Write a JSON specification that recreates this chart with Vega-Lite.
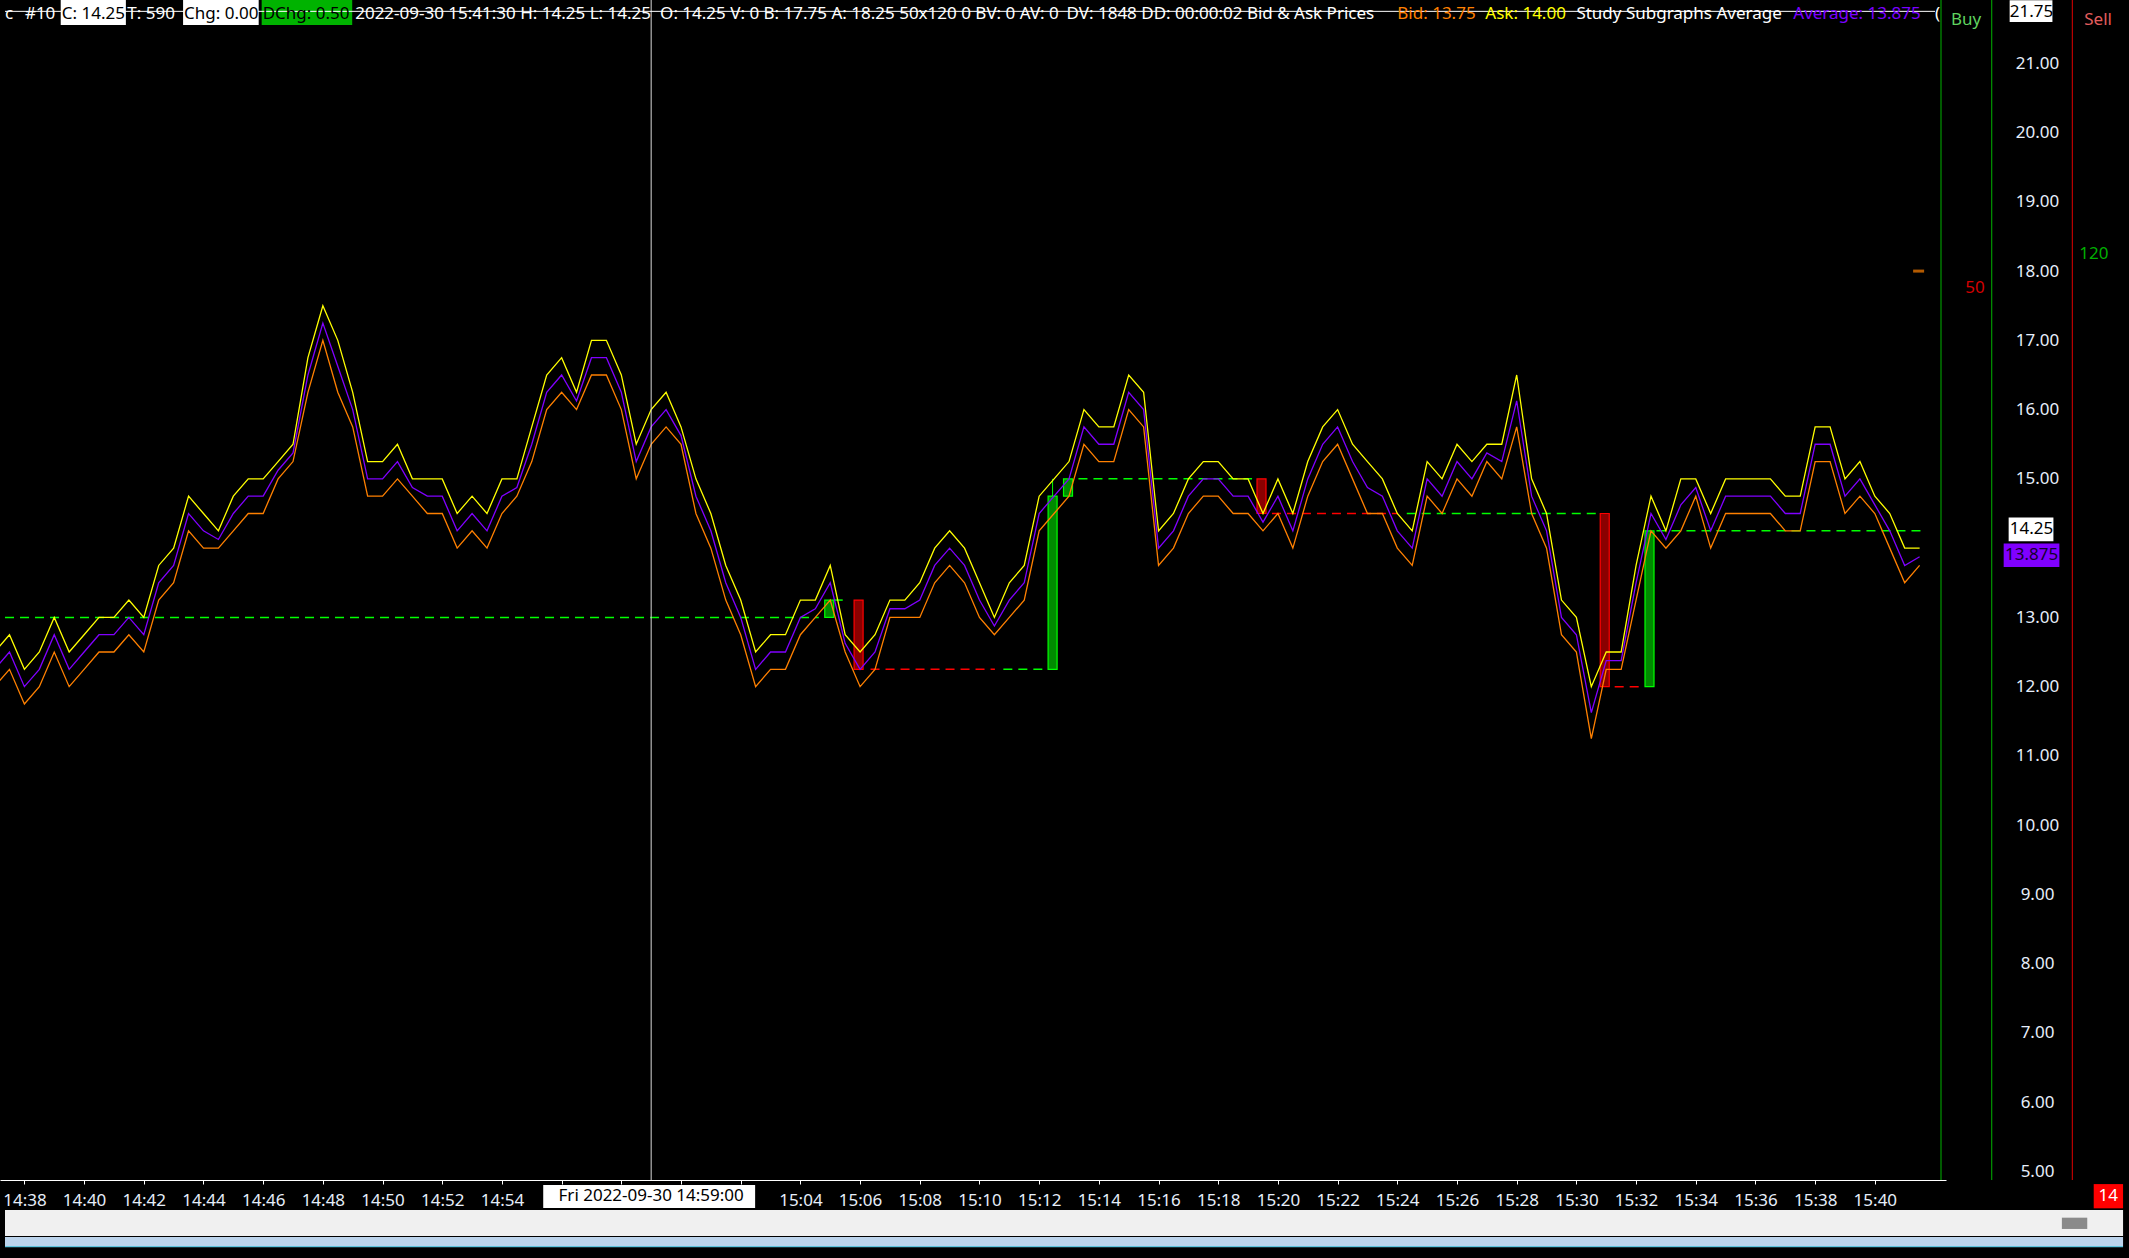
{
"$schema": "https://vega.github.io/schema/vega-lite/v6.json",
"width": 1946, "height": 1180,
"autosize": {"type": "none"},
"padding": {"left": 0, "top": 0, "right": 183, "bottom": 78},
"background": "#000000",
"config": {"view": {"stroke": null}, "text": {"font": "Noto Sans"}},
"resolve": {"scale": {"color": "independent", "fill": "independent"}},
"datasets": {
"quotes": [
{"t":"2022-09-30T14:37:00","Ask":12.5,"Average":12.25,"Bid":12.0},
{"t":"2022-09-30T14:37:30","Ask":12.75,"Average":12.5,"Bid":12.25},
{"t":"2022-09-30T14:38:00","Ask":12.25,"Average":12.0,"Bid":11.75},
{"t":"2022-09-30T14:38:30","Ask":12.5,"Average":12.25,"Bid":12.0},
{"t":"2022-09-30T14:39:00","Ask":13.0,"Average":12.75,"Bid":12.5},
{"t":"2022-09-30T14:39:30","Ask":12.5,"Average":12.25,"Bid":12.0},
{"t":"2022-09-30T14:40:00","Ask":12.75,"Average":12.5,"Bid":12.25},
{"t":"2022-09-30T14:40:30","Ask":13.0,"Average":12.75,"Bid":12.5},
{"t":"2022-09-30T14:41:00","Ask":13.0,"Average":12.75,"Bid":12.5},
{"t":"2022-09-30T14:41:30","Ask":13.25,"Average":13.0,"Bid":12.75},
{"t":"2022-09-30T14:42:00","Ask":13.0,"Average":12.75,"Bid":12.5},
{"t":"2022-09-30T14:42:30","Ask":13.75,"Average":13.5,"Bid":13.25},
{"t":"2022-09-30T14:43:00","Ask":14.0,"Average":13.75,"Bid":13.5},
{"t":"2022-09-30T14:43:30","Ask":14.75,"Average":14.5,"Bid":14.25},
{"t":"2022-09-30T14:44:00","Ask":14.5,"Average":14.25,"Bid":14.0},
{"t":"2022-09-30T14:44:30","Ask":14.25,"Average":14.125,"Bid":14.0},
{"t":"2022-09-30T14:45:00","Ask":14.75,"Average":14.5,"Bid":14.25},
{"t":"2022-09-30T14:45:30","Ask":15.0,"Average":14.75,"Bid":14.5},
{"t":"2022-09-30T14:46:00","Ask":15.0,"Average":14.75,"Bid":14.5},
{"t":"2022-09-30T14:46:30","Ask":15.25,"Average":15.125,"Bid":15.0},
{"t":"2022-09-30T14:47:00","Ask":15.5,"Average":15.375,"Bid":15.25},
{"t":"2022-09-30T14:47:30","Ask":16.75,"Average":16.5,"Bid":16.25},
{"t":"2022-09-30T14:48:00","Ask":17.5,"Average":17.25,"Bid":17.0},
{"t":"2022-09-30T14:48:30","Ask":17.0,"Average":16.625,"Bid":16.25},
{"t":"2022-09-30T14:49:00","Ask":16.25,"Average":16.0,"Bid":15.75},
{"t":"2022-09-30T14:49:30","Ask":15.25,"Average":15.0,"Bid":14.75},
{"t":"2022-09-30T14:50:00","Ask":15.25,"Average":15.0,"Bid":14.75},
{"t":"2022-09-30T14:50:30","Ask":15.5,"Average":15.25,"Bid":15.0},
{"t":"2022-09-30T14:51:00","Ask":15.0,"Average":14.875,"Bid":14.75},
{"t":"2022-09-30T14:51:30","Ask":15.0,"Average":14.75,"Bid":14.5},
{"t":"2022-09-30T14:52:00","Ask":15.0,"Average":14.75,"Bid":14.5},
{"t":"2022-09-30T14:52:30","Ask":14.5,"Average":14.25,"Bid":14.0},
{"t":"2022-09-30T14:53:00","Ask":14.75,"Average":14.5,"Bid":14.25},
{"t":"2022-09-30T14:53:30","Ask":14.5,"Average":14.25,"Bid":14.0},
{"t":"2022-09-30T14:54:00","Ask":15.0,"Average":14.75,"Bid":14.5},
{"t":"2022-09-30T14:54:30","Ask":15.0,"Average":14.875,"Bid":14.75},
{"t":"2022-09-30T14:55:00","Ask":15.75,"Average":15.5,"Bid":15.25},
{"t":"2022-09-30T14:55:30","Ask":16.5,"Average":16.25,"Bid":16.0},
{"t":"2022-09-30T14:56:00","Ask":16.75,"Average":16.5,"Bid":16.25},
{"t":"2022-09-30T14:56:30","Ask":16.25,"Average":16.125,"Bid":16.0},
{"t":"2022-09-30T14:57:00","Ask":17.0,"Average":16.75,"Bid":16.5},
{"t":"2022-09-30T14:57:30","Ask":17.0,"Average":16.75,"Bid":16.5},
{"t":"2022-09-30T14:58:00","Ask":16.5,"Average":16.25,"Bid":16.0},
{"t":"2022-09-30T14:58:30","Ask":15.5,"Average":15.25,"Bid":15.0},
{"t":"2022-09-30T14:59:00","Ask":16.0,"Average":15.75,"Bid":15.5},
{"t":"2022-09-30T14:59:30","Ask":16.25,"Average":16.0,"Bid":15.75},
{"t":"2022-09-30T15:00:00","Ask":15.75,"Average":15.625,"Bid":15.5},
{"t":"2022-09-30T15:00:30","Ask":15.0,"Average":14.75,"Bid":14.5},
{"t":"2022-09-30T15:01:00","Ask":14.5,"Average":14.25,"Bid":14.0},
{"t":"2022-09-30T15:01:30","Ask":13.75,"Average":13.5,"Bid":13.25},
{"t":"2022-09-30T15:02:00","Ask":13.25,"Average":13.0,"Bid":12.75},
{"t":"2022-09-30T15:02:30","Ask":12.5,"Average":12.25,"Bid":12.0},
{"t":"2022-09-30T15:03:00","Ask":12.75,"Average":12.5,"Bid":12.25},
{"t":"2022-09-30T15:03:30","Ask":12.75,"Average":12.5,"Bid":12.25},
{"t":"2022-09-30T15:04:00","Ask":13.25,"Average":13.0,"Bid":12.75},
{"t":"2022-09-30T15:04:30","Ask":13.25,"Average":13.125,"Bid":13.0},
{"t":"2022-09-30T15:05:00","Ask":13.75,"Average":13.5,"Bid":13.25},
{"t":"2022-09-30T15:05:30","Ask":12.75,"Average":12.625,"Bid":12.5},
{"t":"2022-09-30T15:06:00","Ask":12.5,"Average":12.25,"Bid":12.0},
{"t":"2022-09-30T15:06:30","Ask":12.75,"Average":12.5,"Bid":12.25},
{"t":"2022-09-30T15:07:00","Ask":13.25,"Average":13.125,"Bid":13.0},
{"t":"2022-09-30T15:07:30","Ask":13.25,"Average":13.125,"Bid":13.0},
{"t":"2022-09-30T15:08:00","Ask":13.5,"Average":13.25,"Bid":13.0},
{"t":"2022-09-30T15:08:30","Ask":14.0,"Average":13.75,"Bid":13.5},
{"t":"2022-09-30T15:09:00","Ask":14.25,"Average":14.0,"Bid":13.75},
{"t":"2022-09-30T15:09:30","Ask":14.0,"Average":13.75,"Bid":13.5},
{"t":"2022-09-30T15:10:00","Ask":13.5,"Average":13.25,"Bid":13.0},
{"t":"2022-09-30T15:10:30","Ask":13.0,"Average":12.875,"Bid":12.75},
{"t":"2022-09-30T15:11:00","Ask":13.5,"Average":13.25,"Bid":13.0},
{"t":"2022-09-30T15:11:30","Ask":13.75,"Average":13.5,"Bid":13.25},
{"t":"2022-09-30T15:12:00","Ask":14.75,"Average":14.5,"Bid":14.25},
{"t":"2022-09-30T15:12:30","Ask":15.0,"Average":14.75,"Bid":14.5},
{"t":"2022-09-30T15:13:00","Ask":15.25,"Average":15.0,"Bid":14.75},
{"t":"2022-09-30T15:13:30","Ask":16.0,"Average":15.75,"Bid":15.5},
{"t":"2022-09-30T15:14:00","Ask":15.75,"Average":15.5,"Bid":15.25},
{"t":"2022-09-30T15:14:30","Ask":15.75,"Average":15.5,"Bid":15.25},
{"t":"2022-09-30T15:15:00","Ask":16.5,"Average":16.25,"Bid":16.0},
{"t":"2022-09-30T15:15:30","Ask":16.25,"Average":16.0,"Bid":15.75},
{"t":"2022-09-30T15:16:00","Ask":14.25,"Average":14.0,"Bid":13.75},
{"t":"2022-09-30T15:16:30","Ask":14.5,"Average":14.25,"Bid":14.0},
{"t":"2022-09-30T15:17:00","Ask":15.0,"Average":14.75,"Bid":14.5},
{"t":"2022-09-30T15:17:30","Ask":15.25,"Average":15.0,"Bid":14.75},
{"t":"2022-09-30T15:18:00","Ask":15.25,"Average":15.0,"Bid":14.75},
{"t":"2022-09-30T15:18:30","Ask":15.0,"Average":14.75,"Bid":14.5},
{"t":"2022-09-30T15:19:00","Ask":15.0,"Average":14.75,"Bid":14.5},
{"t":"2022-09-30T15:19:30","Ask":14.5,"Average":14.375,"Bid":14.25},
{"t":"2022-09-30T15:20:00","Ask":15.0,"Average":14.75,"Bid":14.5},
{"t":"2022-09-30T15:20:30","Ask":14.5,"Average":14.25,"Bid":14.0},
{"t":"2022-09-30T15:21:00","Ask":15.25,"Average":15.0,"Bid":14.75},
{"t":"2022-09-30T15:21:30","Ask":15.75,"Average":15.5,"Bid":15.25},
{"t":"2022-09-30T15:22:00","Ask":16.0,"Average":15.75,"Bid":15.5},
{"t":"2022-09-30T15:22:30","Ask":15.5,"Average":15.25,"Bid":15.0},
{"t":"2022-09-30T15:23:00","Ask":15.25,"Average":14.875,"Bid":14.5},
{"t":"2022-09-30T15:23:30","Ask":15.0,"Average":14.75,"Bid":14.5},
{"t":"2022-09-30T15:24:00","Ask":14.5,"Average":14.25,"Bid":14.0},
{"t":"2022-09-30T15:24:30","Ask":14.25,"Average":14.0,"Bid":13.75},
{"t":"2022-09-30T15:25:00","Ask":15.25,"Average":15.0,"Bid":14.75},
{"t":"2022-09-30T15:25:30","Ask":15.0,"Average":14.75,"Bid":14.5},
{"t":"2022-09-30T15:26:00","Ask":15.5,"Average":15.25,"Bid":15.0},
{"t":"2022-09-30T15:26:30","Ask":15.25,"Average":15.0,"Bid":14.75},
{"t":"2022-09-30T15:27:00","Ask":15.5,"Average":15.375,"Bid":15.25},
{"t":"2022-09-30T15:27:30","Ask":15.5,"Average":15.25,"Bid":15.0},
{"t":"2022-09-30T15:28:00","Ask":16.5,"Average":16.125,"Bid":15.75},
{"t":"2022-09-30T15:28:30","Ask":15.0,"Average":14.75,"Bid":14.5},
{"t":"2022-09-30T15:29:00","Ask":14.5,"Average":14.25,"Bid":14.0},
{"t":"2022-09-30T15:29:30","Ask":13.25,"Average":13.0,"Bid":12.75},
{"t":"2022-09-30T15:30:00","Ask":13.0,"Average":12.75,"Bid":12.5},
{"t":"2022-09-30T15:30:30","Ask":12.0,"Average":11.625,"Bid":11.25},
{"t":"2022-09-30T15:31:00","Ask":12.5,"Average":12.375,"Bid":12.25},
{"t":"2022-09-30T15:31:30","Ask":12.5,"Average":12.375,"Bid":12.25},
{"t":"2022-09-30T15:32:00","Ask":13.75,"Average":13.5,"Bid":13.25},
{"t":"2022-09-30T15:32:30","Ask":14.75,"Average":14.5,"Bid":14.25},
{"t":"2022-09-30T15:33:00","Ask":14.25,"Average":14.125,"Bid":14.0},
{"t":"2022-09-30T15:33:30","Ask":15.0,"Average":14.625,"Bid":14.25},
{"t":"2022-09-30T15:34:00","Ask":15.0,"Average":14.875,"Bid":14.75},
{"t":"2022-09-30T15:34:30","Ask":14.5,"Average":14.25,"Bid":14.0},
{"t":"2022-09-30T15:35:00","Ask":15.0,"Average":14.75,"Bid":14.5},
{"t":"2022-09-30T15:35:30","Ask":15.0,"Average":14.75,"Bid":14.5},
{"t":"2022-09-30T15:36:00","Ask":15.0,"Average":14.75,"Bid":14.5},
{"t":"2022-09-30T15:36:30","Ask":15.0,"Average":14.75,"Bid":14.5},
{"t":"2022-09-30T15:37:00","Ask":14.75,"Average":14.5,"Bid":14.25},
{"t":"2022-09-30T15:37:30","Ask":14.75,"Average":14.5,"Bid":14.25},
{"t":"2022-09-30T15:38:00","Ask":15.75,"Average":15.5,"Bid":15.25},
{"t":"2022-09-30T15:38:30","Ask":15.75,"Average":15.5,"Bid":15.25},
{"t":"2022-09-30T15:39:00","Ask":15.0,"Average":14.75,"Bid":14.5},
{"t":"2022-09-30T15:39:30","Ask":15.25,"Average":15.0,"Bid":14.75},
{"t":"2022-09-30T15:40:00","Ask":14.75,"Average":14.625,"Bid":14.5},
{"t":"2022-09-30T15:40:30","Ask":14.5,"Average":14.25,"Bid":14.0},
{"t":"2022-09-30T15:41:00","Ask":14.0,"Average":13.75,"Bid":13.5},
{"t":"2022-09-30T15:41:30","Ask":14.0,"Average":13.875,"Bid":13.75}
],
"levels": [
{"t":"2022-09-30T14:37:21","t2":"2022-09-30T15:04:37","v":13.0,"side":"buy"},
{"t":"2022-09-30T15:05:07","t2":"2022-09-30T15:05:35","v":13.25,"side":"buy"},
{"t":"2022-09-30T15:06:21","t2":"2022-09-30T15:10:31","v":12.25,"side":"sell"},
{"t":"2022-09-30T15:10:48","t2":"2022-09-30T15:12:08","v":12.25,"side":"buy"},
{"t":"2022-09-30T15:13:19","t2":"2022-09-30T15:19:08","v":15.0,"side":"buy"},
{"t":"2022-09-30T15:19:48","t2":"2022-09-30T15:24:01","v":14.5,"side":"sell"},
{"t":"2022-09-30T15:24:19","t2":"2022-09-30T15:30:47","v":14.5,"side":"buy"},
{"t":"2022-09-30T15:31:17","t2":"2022-09-30T15:32:11","v":12.0,"side":"sell"},
{"t":"2022-09-30T15:32:41","t2":"2022-09-30T15:41:37","v":14.25,"side":"buy"}
],
"orders": [
{"t":"2022-09-30T15:04:58","v":13.0,"v2":13.25,"side":"buy"},
{"t":"2022-09-30T15:05:57","v":12.25,"v2":13.25,"side":"sell"},
{"t":"2022-09-30T15:12:27","v":12.25,"v2":14.75,"side":"buy"},
{"t":"2022-09-30T15:12:58","v":14.75,"v2":15.0,"side":"buy"},
{"t":"2022-09-30T15:19:27","v":14.5,"v2":15.0,"side":"sell"},
{"t":"2022-09-30T15:30:57","v":12.0,"v2":14.5,"side":"sell"},
{"t":"2022-09-30T15:32:27","v":12.0,"v2":14.25,"side":"buy"}
],
"verticals": [
{"t":"2022-09-30T15:42:13","k":"frame"},
{"t":"2022-09-30T15:43:55","k":"frame"},
{"t":"2022-09-30T15:46:37","k":"sell"},
{"t":"2022-09-30T14:59:00","k":"cursor"}
],
"boxes": [
{"t":"2022-09-30T14:39:13","t2":"2022-09-30T14:41:24","v":21.914,"v2":21.553,"k":"inv"},
{"t":"2022-09-30T14:43:19","t2":"2022-09-30T14:45:51","v":21.914,"v2":21.553,"k":"inv"},
{"t":"2022-09-30T14:45:57","t2":"2022-09-30T14:48:59","v":21.914,"v2":21.553,"k":"dchg"},
{"t":"2022-09-30T15:44:31","t2":"2022-09-30T15:45:57","v":21.909,"v2":21.596,"k":"inv"},
{"t":"2022-09-30T15:44:29","t2":"2022-09-30T15:45:59","v":14.441,"v2":14.100,"k":"inv"},
{"t":"2022-09-30T15:44:19","t2":"2022-09-30T15:46:11","v":14.068,"v2":13.729,"k":"avgbox"},
{"t":"2022-09-30T14:55:23","t2":"2022-09-30T15:02:29","v":4.805,"v2":4.473,"k":"inv"},
{"t":"2022-09-30T14:37:21","t2":"2022-09-30T15:48:19","v":4.444,"v2":4.068,"k":"band"},
{"t":"2022-09-30T14:37:21","t2":"2022-09-30T15:48:19","v":4.054,"v2":3.924,"k":"strip"},
{"t":"2022-09-30T14:37:21","t2":"2022-09-30T15:48:19","v":3.924,"v2":3.905,"k":"edge"},
{"t":"2022-09-30T15:46:16","t2":"2022-09-30T15:47:07","v":4.333,"v2":4.170,"k":"thumb"},
{"t":"2022-09-30T15:47:20","t2":"2022-09-30T15:48:19","v":4.818,"v2":4.468,"k":"alert"}
],
"leftText": [
{"t":"2022-09-30T14:37:21","v":21.715,"txt":"c","k":"plain"},
{"t":"2022-09-30T14:38:01","v":21.715,"txt":"#10","k":"plain"},
{"t":"2022-09-30T14:39:15","v":21.715,"txt":"C: 14.25","k":"dark"},
{"t":"2022-09-30T14:41:27","v":21.715,"txt":"T: 590","k":"plain"},
{"t":"2022-09-30T14:43:21","v":21.715,"txt":"Chg: 0.00","k":"dark"},
{"t":"2022-09-30T14:45:59","v":21.715,"txt":"DChg: 0.50","k":"dark"},
{"t":"2022-09-30T14:49:05","v":21.715,"txt":"2022-09-30 15:41:30 H: 14.25 L: 14.25","k":"plain"},
{"t":"2022-09-30T14:59:18","v":21.715,"txt":"O: 14.25 V: 0 B: 17.75 A: 18.25 50x120 0 BV: 0 AV: 0","k":"plain"},
{"t":"2022-09-30T15:12:55","v":21.715,"txt":"DV: 1848 DD: 00:00:02 Bid & Ask Prices","k":"plain"},
{"t":"2022-09-30T15:24:00","v":21.715,"txt":"Bid: 13.75","k":"bid"},
{"t":"2022-09-30T15:26:57","v":21.715,"txt":"Ask: 14.00","k":"ask"},
{"t":"2022-09-30T15:30:00","v":21.715,"txt":"Study Subgraphs Average","k":"plain"},
{"t":"2022-09-30T15:37:16","v":21.715,"txt":"Average: 13.875","k":"avg"},
{"t":"2022-09-30T15:42:01","v":21.715,"txt":"(","k":"plain"},
{"t":"2022-09-30T15:42:33","v":21.625,"txt":"Buy","k":"buyhdr"},
{"t":"2022-09-30T15:47:01","v":21.625,"txt":"Sell","k":"sellhdr"},
{"t":"2022-09-30T15:46:51","v":18.25,"txt":"120","k":"buyq"}
],
"centerText": [
{"t":"2022-09-30T15:45:15","v":21.745,"txt":"21.75","k":"dark"},
{"t":"2022-09-30T15:45:15","v":14.27,"txt":"14.25","k":"dark"},
{"t":"2022-09-30T15:45:15","v":13.9,"txt":"13.875","k":"deep"},
{"t":"2022-09-30T14:59:00","v":4.639,"txt":"Fri 2022-09-30  14:59:00","k":"dark"},
{"t":"2022-09-30T15:47:49","v":4.643,"txt":"14","k":"plain"}
]
},
"layer": [
{"data": {"name": "boxes"}, "mark": {"type": "rect"},
 "encoding": {
  "x": {"field": "t", "type": "temporal",
   "scale": {"domain": [{"year":2022,"month":9,"date":30,"hours":14,"minutes":37,"seconds":21},{"year":2022,"month":9,"date":30,"hours":15,"minutes":42,"seconds":13}]},
   "axis": {"orient": "bottom", "title": null, "format": "%H:%M", "grid": false,
    "labelExpr": "(hours(datum.value)*60 + minutes(datum.value) >= 896 && hours(datum.value)*60 + minutes(datum.value) <= 902) ? '' : timeFormat(datum.value, '%H:%M')",
    "values": [
     {"year":2022,"month":9,"date":30,"hours":14,"minutes":38},{"year":2022,"month":9,"date":30,"hours":14,"minutes":40},
     {"year":2022,"month":9,"date":30,"hours":14,"minutes":42},{"year":2022,"month":9,"date":30,"hours":14,"minutes":44},
     {"year":2022,"month":9,"date":30,"hours":14,"minutes":46},{"year":2022,"month":9,"date":30,"hours":14,"minutes":48},
     {"year":2022,"month":9,"date":30,"hours":14,"minutes":50},{"year":2022,"month":9,"date":30,"hours":14,"minutes":52},
     {"year":2022,"month":9,"date":30,"hours":14,"minutes":54},{"year":2022,"month":9,"date":30,"hours":14,"minutes":56},
     {"year":2022,"month":9,"date":30,"hours":14,"minutes":58},{"year":2022,"month":9,"date":30,"hours":15,"minutes":0},
     {"year":2022,"month":9,"date":30,"hours":15,"minutes":2},{"year":2022,"month":9,"date":30,"hours":15,"minutes":4},
     {"year":2022,"month":9,"date":30,"hours":15,"minutes":6},{"year":2022,"month":9,"date":30,"hours":15,"minutes":8},
     {"year":2022,"month":9,"date":30,"hours":15,"minutes":10},{"year":2022,"month":9,"date":30,"hours":15,"minutes":12},
     {"year":2022,"month":9,"date":30,"hours":15,"minutes":14},{"year":2022,"month":9,"date":30,"hours":15,"minutes":16},
     {"year":2022,"month":9,"date":30,"hours":15,"minutes":18},{"year":2022,"month":9,"date":30,"hours":15,"minutes":20},
     {"year":2022,"month":9,"date":30,"hours":15,"minutes":22},{"year":2022,"month":9,"date":30,"hours":15,"minutes":24},
     {"year":2022,"month":9,"date":30,"hours":15,"minutes":26},{"year":2022,"month":9,"date":30,"hours":15,"minutes":28},
     {"year":2022,"month":9,"date":30,"hours":15,"minutes":30},{"year":2022,"month":9,"date":30,"hours":15,"minutes":32},
     {"year":2022,"month":9,"date":30,"hours":15,"minutes":34},{"year":2022,"month":9,"date":30,"hours":15,"minutes":36},
     {"year":2022,"month":9,"date":30,"hours":15,"minutes":38},{"year":2022,"month":9,"date":30,"hours":15,"minutes":40}
    ],
    "domainColor": "#ffffff", "domainWidth": 1, "tickColor": "#ffffff", "tickSize": 4,
    "labelColor": "#e6eefa", "labelFont": "Noto Sans", "labelFontSize": 17, "labelPadding": 8,
    "labelFlush": false, "labelOverlap": false}},
  "x2": {"field": "t2"},
  "y": {"field": "v", "type": "quantitative",
   "scale": {"domain": [4.877, 21.914], "nice": false, "zero": false},
   "axis": {"orient": "right", "title": null, "grid": false, "domain": false, "ticks": false, "tickSize": 0,
    "values": [5,6,7,8,9,10,11,12,13,15,16,17,18,19,20,21], "format": ".2f",
    "labelPadding": 91, "labelAlign": "center", "labelBaseline": "middle",
    "labelColor": "#e6eefa", "labelFont": "Noto Sans", "labelFontSize": 17, "labelOverlap": false, "labelFlush": false}},
  "y2": {"field": "v2"},
  "fill": {"field": "k", "type": "nominal", "legend": null,
   "scale": {"domain": ["inv","dchg","avgbox","band","strip","edge","thumb","alert"],
             "range": ["#ffffff","#00b300","#8000ff","#f0f0f0","#bcd4ec","#5ec4de","#8a8a8a","#ff0000"]}}
 }},
{"data": {"name": "levels"}, "mark": {"type": "rule", "strokeDash": [9, 6], "strokeWidth": 1.5},
 "encoding": {
  "x": {"field": "t", "type": "temporal"}, "x2": {"field": "t2"},
  "y": {"field": "v", "type": "quantitative"},
  "stroke": {"field": "side", "type": "nominal", "legend": null,
   "scale": {"domain": ["buy","sell"], "range": ["#00ff00","#ff0000"]}}
 }},
{"data": {"name": "orders"}, "mark": {"type": "bar", "width": 9, "orient": "vertical", "strokeWidth": 1.2},
 "encoding": {
  "x": {"field": "t", "type": "temporal"},
  "y": {"field": "v", "type": "quantitative"}, "y2": {"field": "v2"},
  "fill": {"field": "side", "type": "nominal", "legend": null,
   "scale": {"domain": ["buy","sell"], "range": ["#008a00","#8b0000"]}},
  "stroke": {"field": "side", "type": "nominal", "legend": null}
 }},
{"data": {"values": [{"t":"2022-09-30T15:12:27","v":14.75,"v2":15.0}]}, "mark": {"type": "rule", "color": "#00ff00", "strokeWidth": 1},
 "encoding": {
  "x": {"field": "t", "type": "temporal"},
  "y": {"field": "v", "type": "quantitative"}, "y2": {"field": "v2"}
 }},
{"data": {"name": "quotes"}, "transform": [{"fold": ["Bid","Ask","Average"], "as": ["s","v"]}],
 "mark": {"type": "line", "strokeWidth": 1.3, "clip": true},
 "encoding": {
  "x": {"field": "t", "type": "temporal"},
  "y": {"field": "v", "type": "quantitative"},
  "color": {"field": "s", "type": "nominal", "legend": null,
   "scale": {"domain": ["Ask","Average","Bid"], "range": ["#ffff00","#8000ff","#ff8000"]}}
 }},
{"data": {"name": "verticals"}, "mark": {"type": "rule", "strokeWidth": 1},
 "encoding": {
  "x": {"field": "t", "type": "temporal"},
  "color": {"field": "k", "type": "nominal", "legend": null,
   "scale": {"domain": ["frame","sell","cursor"], "range": ["#00b400","#e00000","#d8d8d8"]}}
 }},
{"data": {"values": [{"t":"2022-09-30T14:37:21","t2":"2022-09-30T15:42:01","v":21.75}]}, "mark": {"type": "rule", "color": "#ffffff", "strokeWidth": 1},
 "encoding": {
  "x": {"field": "t", "type": "temporal"}, "x2": {"field": "t2"},
  "y": {"field": "v", "type": "quantitative"}
 }},
{"data": {"values": [{"t":"2022-09-30T15:41:28","v":18.0}]}, "mark": {"type": "tick", "orient": "horizontal", "size": 11, "thickness": 3, "color": "#ff8000"},
 "encoding": {
  "x": {"field": "t", "type": "temporal"},
  "y": {"field": "v", "type": "quantitative"}
 }},
{"data": {"name": "leftText"}, "mark": {"type": "text", "align": "left", "baseline": "middle", "fontSize": 17, "font": "Noto Sans"},
 "encoding": {
  "x": {"field": "t", "type": "temporal"},
  "y": {"field": "v", "type": "quantitative"},
  "text": {"field": "txt"},
  "color": {"field": "k", "type": "nominal", "legend": null,
   "scale": {"domain": ["plain","dark","bid","ask","avg","buyhdr","sellhdr","buyq"],
             "range": ["#ffffff","#000000","#ff8000","#ffff00","#7b00ff","#5fd35f","#e35d5d","#00b000"]}}
 }},
{"data": {"name": "centerText"}, "mark": {"type": "text", "align": "center", "baseline": "middle", "fontSize": 17, "font": "Noto Sans"},
 "encoding": {
  "x": {"field": "t", "type": "temporal"},
  "y": {"field": "v", "type": "quantitative"},
  "text": {"field": "txt"},
  "color": {"field": "k", "type": "nominal", "legend": null,
   "scale": {"domain": ["dark","deep","plain"], "range": ["#000000","#14002e","#ffffff"]}}
 }},
{"data": {"values": [{"t":"2022-09-30T15:43:41","v":17.75,"txt":"50"}]}, "mark": {"type": "text", "align": "right", "baseline": "middle", "fontSize": 17, "font": "Noto Sans", "color": "#d40000"},
 "encoding": {
  "x": {"field": "t", "type": "temporal"},
  "y": {"field": "v", "type": "quantitative"},
  "text": {"field": "txt"}
 }}
]
}
